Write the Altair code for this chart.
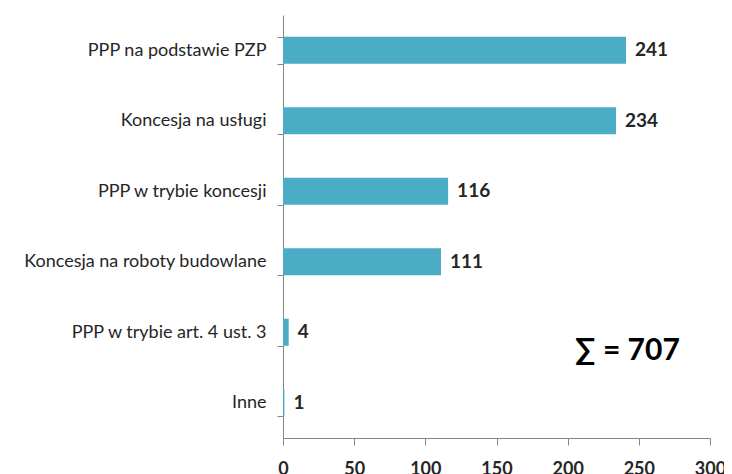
import altair as alt
import pandas as pd

categories = ["PPP na podstawie PZP", "Koncesja na usługi", "PPP w trybie koncesji",
              "Koncesja na roboty budowlane", "PPP w trybie art. 4 ust. 3", "Inne"]
values = [241, 234, 116, 111, 4, 1]
x_ticks = [0, 50, 100, 150, 200, 250, 300]
total_label = "∑ = 707"

df = pd.DataFrame({"kategoria": categories, "liczba": values})
FONT = "Lato"
TEXT = "#262626"
AXIS = "#868686"

x = alt.X("liczba:Q", scale=alt.Scale(domain=[0, 300], nice=False),
          axis=alt.Axis(values=x_ticks, title=None, grid=False, domainColor=AXIS,
                        tickColor=AXIS, tickSize=7, labelFont=FONT, labelFontSize=18,
                        labelFontWeight="bold", labelColor=TEXT, labelPadding=15,
                        labelFlush=False))
yscale = alt.Scale(domain=categories, paddingInner=0.616, paddingOuter=0.308)
y = alt.Y("kategoria:N", scale=yscale,
          axis=alt.Axis(title=None, domainColor=AXIS, tickColor=AXIS, tickSize=6,
                        tickBand="extent", labelFont=FONT, labelFontSize=18,
                        labelColor=TEXT, labelPadding=11, labelLimit=300))

bars = alt.Chart(df).mark_bar(color="#4BACC6").encode(x=x, y=y)
labels = alt.Chart(df).mark_text(align="left", baseline="middle", dx=9, font=FONT,
                                 fontSize=19, fontWeight="bold", color=TEXT).encode(
    x="liczba:Q", y=alt.Y("kategoria:N", scale=yscale), text="liczba:Q")
total = alt.Chart(pd.DataFrame({"t": [total_label], "x": [242],
                                "k": ["PPP w trybie art. 4 ust. 3"]})).mark_text(
    align="center", baseline="middle", dy=19, font=FONT, fontSize=30,
    fontWeight="bold", color="#000000").encode(
    x="x:Q", y=alt.Y("k:N", scale=yscale), text="t:N")

chart = (bars + labels + total).properties(
    width=427, height=423,
    autosize=alt.AutoSizeParams(type="none"),
    padding={"left": 275, "top": 7, "right": 14, "bottom": 36},
    background="white",
).configure_view(stroke=None)

chart.save("out.html", embed_options={"renderer": "svg", "actions": False})
